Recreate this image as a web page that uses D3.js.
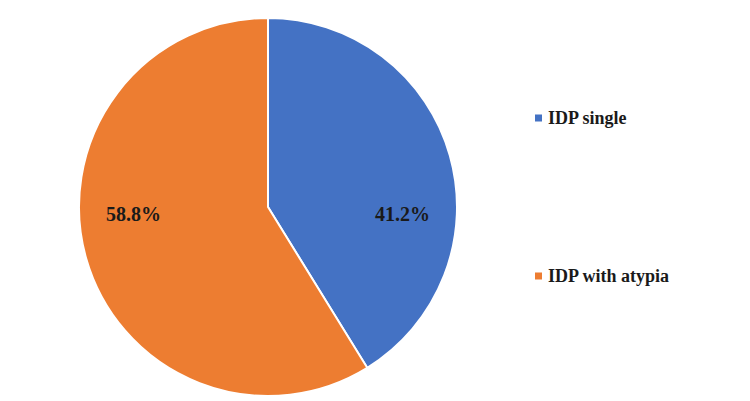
<!DOCTYPE html>
<html>
<head>
<meta charset="utf-8">
<script src="https://cdn.jsdelivr.net/npm/d3@7"></script>
<style>
  body { margin: 0; background: #fff; }
  text { font-family: "Liberation Serif", "Times New Roman", serif; font-weight: bold; fill: #1a1a1a; }
</style>
</head>
<body>
<svg id="chart"></svg>
<script>
var categories = ["IDP single", "IDP with atypia"];
var values = [41.2, 58.8];
var labels = ["41.2%", "58.8%"];
var colors = ["#4472C4", "#ED7D31"];

var width = 750, height = 401,
    cx = 268, cy = 207, radius = 189;

var svg = d3.select("#chart")
    .attr("width", width)
    .attr("height", height);

var pie = d3.pie().sort(null).value(function (d) { return d; });
var arc = d3.arc().innerRadius(0).outerRadius(radius);
var labelArc = d3.arc().innerRadius(radius * 0.74).outerRadius(radius * 0.74);

var g = svg.append("g")
    .attr("transform", "translate(" + cx + "," + cy + ")");

var slices = g.selectAll("g.slice")
    .data(pie(values))
    .enter().append("g")
    .attr("class", "slice");

slices.append("path")
    .attr("d", arc)
    .attr("fill", function (d, i) { return colors[i]; })
    .attr("stroke", "#fff")
    .attr("stroke-width", 2);

// labels sit level with the centre, as in the original
slices.append("text")
    .attr("transform", function (d) {
        var c = labelArc.centroid(d);
        return "translate(" + c[0] + ",14)";
    })
    .attr("text-anchor", "middle")
    .attr("font-size", "20px")
    .text(function (d, i) { return labels[i]; });

// legend
var legend = svg.append("g")
    .attr("transform", "translate(535,0)");

var item = legend.selectAll("g.item")
    .data(categories)
    .enter().append("g")
    .attr("class", "item")
    .attr("transform", function (d, i) { return "translate(0," + (118 + i * 158) + ")"; });

item.append("rect")
    .attr("x", 0)
    .attr("y", -3.5)
    .attr("width", 7)
    .attr("height", 7)
    .attr("fill", function (d, i) { return colors[i]; });

item.append("text")
    .attr("x", 13)
    .attr("y", 6)
    .attr("font-size", "18px")
    .text(function (d) { return d; });
</script>
</body>
</html>
